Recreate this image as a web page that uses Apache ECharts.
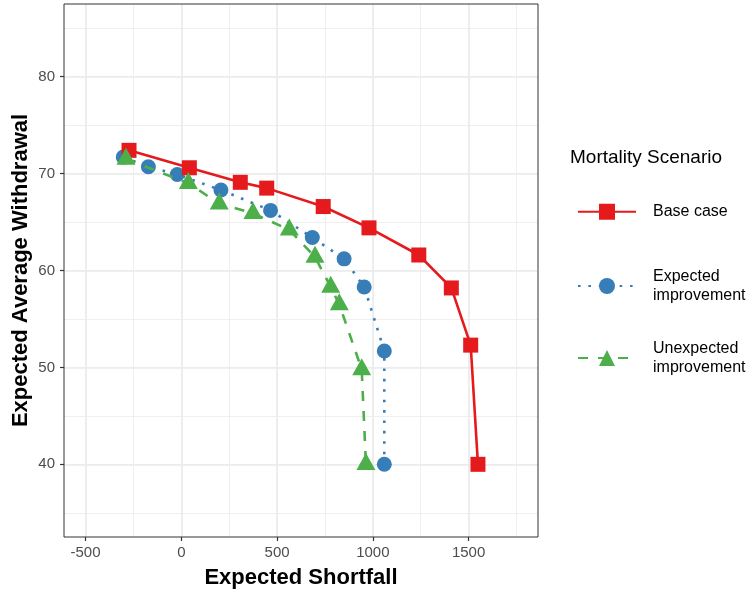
<!DOCTYPE html>
<html>
<head>
<meta charset="utf-8">
<script src="https://cdn.jsdelivr.net/npm/echarts@6/dist/echarts.min.js"></script>
<style>
  html, body { margin: 0; padding: 0; background: #fff; }
  #main { width: 748px; height: 592px; }
</style>
</head>
<body>
<div id="main"></div>
<script>
// Expected Shortfall (x) vs Expected Average Withdrawal (y), per mortality scenario
const baseX = [-273, 42, 308, 446, 741, 980, 1240, 1410, 1511, 1549];
const baseY = [72.4, 70.6, 69.1, 68.5, 66.6, 64.4, 61.6, 58.2, 52.3, 40];
const expX = [-303, -172, -21, 207, 466, 684, 850, 955, 1060, 1060];
const expY = [71.7, 70.7, 69.9, 68.3, 66.2, 63.4, 61.2, 58.3, 51.7, 40];
const unexpX = [-289, 37, 198, 374, 564, 698, 780, 825, 942, 964];
const unexpY = [71.5, 69.0, 66.9, 65.9, 64.2, 61.4, 58.3, 56.5, 49.8, 40];

const xTicks = [-500, 0, 500, 1000, 1500];
const yTicks = [40, 50, 60, 70, 80];

const font = 'Liberation Sans, Arial, Helvetica, sans-serif';
const pairs = (xs, ys) => xs.map((x, i) => [x, ys[i]]);

// panel: x -612.5..1862.5, y 32.5..87.5 (ggplot 5% expansion)
const hidden = { axisLine: { show: false }, axisTick: { show: false }, axisLabel: { show: false }, splitLine: { show: false } };
const minorLine = { show: true, lineStyle: { color: '#ededed', width: 0.9 } };
const majorLine = { show: true, lineStyle: { color: '#ebebeb', width: 1.6 } };

let myChart = echarts.init(document.getElementById('main'));

myChart.setOption({
  animation: false,
  textStyle: { fontFamily: font },
  title: {
    text: 'Mortality Scenario',
    left: 565,
    top: 143,
    textStyle: { fontSize: 19, fontWeight: 'normal', color: '#000', fontFamily: font },
  },
  legend: [
    { data: ['Base case'], left: 577, top: 201 },
    { data: ['Expected improvement'], left: 577, top: 266 },
    { data: ['Unexpected improvement'], left: 577, top: 338 },
  ].map((l) => Object.assign(l, {
    orient: 'vertical',
    padding: 0,
    itemWidth: 58,
    itemHeight: 20,
    itemGap: 0,
    selectedMode: false,
    formatter: (name) => name.replace(' improvement', '\nimprovement'),
    textStyle: { fontSize: 16, color: '#000', lineHeight: 18.5, fontFamily: font, padding: [3, 0, 0, 12] },
  })),
  grid: [
    // data panel
    { left: 64, right: 210, top: 4, bottom: 55, show: true, borderColor: '#333', borderWidth: 1, backgroundColor: 'transparent', z: 3, outerBoundsMode: 'none', containLabel: false },
    // vertical minor lines (every 250 from -500 to 1750)
    { left: 85.55, right: 231.5, top: 4, bottom: 55, outerBoundsMode: 'none' },
    // vertical major lines (every 500 from -500 to 1500)
    { left: 85.55, right: 279.4, top: 4, bottom: 55, outerBoundsMode: 'none' },
    // horizontal minor lines (every 5 from 35 to 85)
    { left: 64, right: 210, top: 28.2, bottom: 79.2, outerBoundsMode: 'none' },
    // horizontal major lines (every 10 from 40 to 80)
    { left: 64, right: 210, top: 76.7, bottom: 127.7, outerBoundsMode: 'none' },
  ],
  xAxis: [
    {
      gridIndex: 0, type: 'value', min: -612.5, max: 1862.5,
      name: 'Expected Shortfall', nameLocation: 'middle', nameGap: 30, nameMoveOverlap: false,
      nameTextStyle: { fontSize: 22, fontWeight: 'bold', color: '#000', fontFamily: font },
      axisLine: { show: false, onZero: false },
      axisTick: { show: true, length: 4, customValues: xTicks, lineStyle: { color: '#333', width: 1.2 } },
      axisLabel: { customValues: xTicks, fontSize: 15, color: '#4d4d4d', margin: 8, fontFamily: font, formatter: (v) => String(v) },
      splitLine: { show: false },
    },
    Object.assign({ gridIndex: 1, type: 'value', min: -500, max: 1750, interval: 250 }, hidden, { splitLine: minorLine }),
    Object.assign({ gridIndex: 2, type: 'value', min: -500, max: 1500, interval: 500 }, hidden, { splitLine: majorLine }),
    Object.assign({ gridIndex: 3, type: 'value', min: 0, max: 1 }, hidden),
    Object.assign({ gridIndex: 4, type: 'value', min: 0, max: 1 }, hidden),
  ],
  yAxis: [
    {
      gridIndex: 0, type: 'value', min: 32.5, max: 87.5,
      name: 'Expected Average Withdrawal', nameLocation: 'middle', nameGap: 32, nameMoveOverlap: false,
      nameTextStyle: { fontSize: 22, fontWeight: 'bold', color: '#000', fontFamily: font },
      axisLine: { show: false, onZero: false },
      axisTick: { show: true, length: 4, customValues: yTicks, lineStyle: { color: '#333', width: 1.2 } },
      axisLabel: { customValues: yTicks, fontSize: 15, color: '#4d4d4d', margin: 9, fontFamily: font },
      splitLine: { show: false },
    },
    Object.assign({ gridIndex: 1, type: 'value', min: 0, max: 1 }, hidden),
    Object.assign({ gridIndex: 2, type: 'value', min: 0, max: 1 }, hidden),
    Object.assign({ gridIndex: 3, type: 'value', min: 35, max: 85, interval: 5 }, hidden, { splitLine: minorLine }),
    Object.assign({ gridIndex: 4, type: 'value', min: 40, max: 80, interval: 10 }, hidden, { splitLine: majorLine }),
  ],
  series: [
    {
      name: 'Base case',
      type: 'line',
      xAxisIndex: 0, yAxisIndex: 0,
      data: pairs(baseX, baseY),
      symbol: 'rect',
      symbolSize: 15,
      lineStyle: { color: '#e41a1c', width: 2.6, type: 'solid' },
      itemStyle: { color: '#e41a1c' },
      z: 5,
    },
    {
      name: 'Expected improvement',
      type: 'line',
      xAxisIndex: 0, yAxisIndex: 0,
      data: pairs(expX, expY),
      symbol: 'circle',
      symbolSize: 15,
      lineStyle: { color: '#377eb8', width: 2.6, type: [2.6, 7.8] },
      itemStyle: { color: '#377eb8' },
      z: 4,
    },
    {
      name: 'Unexpected improvement',
      type: 'line',
      xAxisIndex: 0, yAxisIndex: 0,
      data: pairs(unexpX, unexpY),
      symbol: 'triangle',
      symbolSize: [19, 17],
      symbolOffset: [0, '-16%'],
      lineStyle: { color: '#4daf4a', width: 2.6, type: [10, 10] },
      itemStyle: { color: '#4daf4a' },
      z: 6,
    },
  ],
});

window.addEventListener('resize', () => {
  myChart.resize();
});
</script>
</body>
</html>
